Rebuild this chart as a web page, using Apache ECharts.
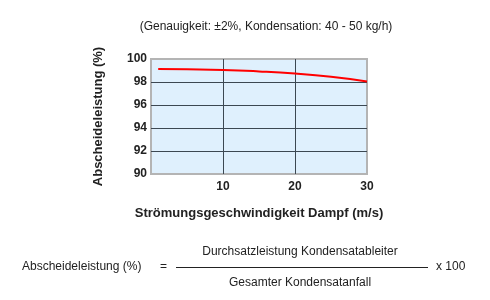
<!DOCTYPE html>
<html><head><meta charset="utf-8">
<script src="https://cdn.jsdelivr.net/npm/echarts@6/dist/echarts.min.js"></script>
<style>html,body{margin:0;padding:0;background:#fff}#c{width:490px;height:300px}</style>
</head><body><div id="c"></div>
<script>
const xValues = [1, 5, 10, 15, 20, 25, 30];
const efficiency = [99.12, 99.1, 99.05, 98.92, 98.73, 98.45, 98.05];
const yTicks = [90, 92, 94, 96, 98, 100];
const xTicks = [10, 20, 30];
const title = '(Genauigkeit: ±2%, Kondensation: 40 - 50 kg/h)';
const yName = 'Abscheideleistung (%)';
const xName = 'Strömungsgeschwindigkeit Dampf (m/s)';
const formulaLeft = 'Abscheideleistung (%)';
const numerator = 'Durchsatzleistung Kondensatableiter';
const denominator = 'Gesamter Kondensatanfall';
const factor = 'x 100';

const font = 'Arial, "Liberation Sans", sans-serif';
const chart = echarts.init(document.getElementById('c'), null, {renderer: 'canvas'});
chart.setOption({
  animation: false,
  title: {text: title, left: 261, top: 16, textAlign: 'center',
    textStyle: {fontFamily: font, fontSize: 12, fontWeight: 'normal', color: '#222'}},
  grid: {left: 151, top: 59, right: 123, bottom: 126, show: true,
    backgroundColor: '#dff0fd', borderColor: '#b4b4b4', borderWidth: 2},
  xAxis: {type: 'value', min: 0, max: 30, interval: 10,
    name: xName, nameLocation: 'middle', nameGap: 33,
    nameTextStyle: {fontFamily: font, fontSize: 13, fontWeight: 'bold', color: '#222'},
    axisLine: {show: false}, axisTick: {show: false},
    axisLabel: {fontFamily: font, fontSize: 12, fontWeight: 'bold', color: '#222', margin: 7,
      formatter: v => xTicks.includes(v) ? String(v) : ''},
    splitLine: {show: true, showMinLine: false, showMaxLine: false, lineStyle: {color: '#3c4852', width: 1}}},
  yAxis: {type: 'value', min: 90, max: 100, interval: 2,
    name: yName, nameLocation: 'middle', nameGap: 46, nameRotate: 90,
    nameTextStyle: {fontFamily: font, fontSize: 13, fontWeight: 'bold', color: '#222'},
    axisLine: {show: false}, axisTick: {show: false},
    axisLabel: {fontFamily: font, fontSize: 12, fontWeight: 'bold', color: '#222', margin: 4,
      formatter: v => yTicks.includes(v) ? String(v) : ''},
    splitLine: {show: true, showMinLine: false, showMaxLine: false, lineStyle: {color: '#3c4852', width: 1}}},
  series: [{type: 'line', data: xValues.map((x, i) => [x, efficiency[i]]),
    smooth: true, showSymbol: false, lineStyle: {color: '#ff0000', width: 2}}],
  graphic: [
    {type: 'text', left: 22, top: 261, style: {text: formulaLeft, font: '12px ' + font, fill: '#222'}},
    {type: 'text', left: 160, top: 261, style: {text: '=', font: '12px ' + font, fill: '#222'}},
    {type: 'line', shape: {x1: 176, y1: 267.5, x2: 428, y2: 267.5}, style: {stroke: '#222', lineWidth: 1}},
    {type: 'text', x: 300, y: 252, style: {text: numerator, font: '12px ' + font, fill: '#222', align: 'center', verticalAlign: 'middle'}},
    {type: 'text', x: 300, y: 283, style: {text: denominator, font: '12px ' + font, fill: '#222', align: 'center', verticalAlign: 'middle'}},
    {type: 'text', left: 436, top: 261, style: {text: factor, font: '12px ' + font, fill: '#222'}}
  ]
});
</script></body></html>
